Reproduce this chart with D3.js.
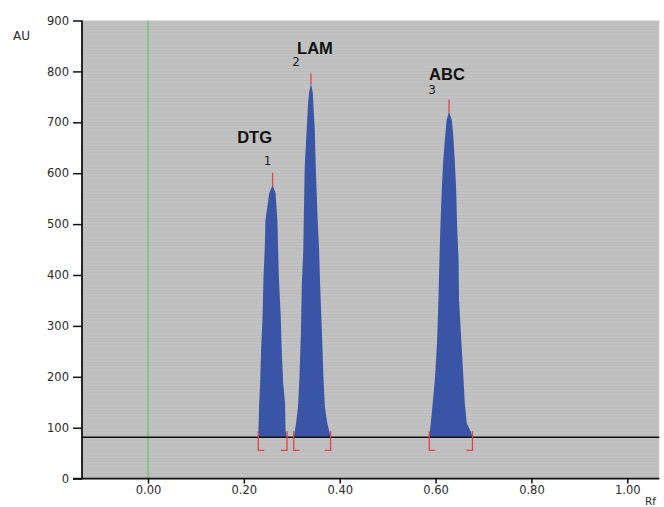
<!DOCTYPE html>
<html>
<head>
<meta charset="utf-8">
<script src="https://cdn.jsdelivr.net/npm/d3@7"></script>
<style>
  body { margin: 0; background: #fff; }
  svg { display: block; }
  .tick text { font-family: "DejaVu Sans", sans-serif; font-size: 11.5px; fill: #2a2a2a; }
</style>
</head>
<body>
<div id="chart"></div>
<script>
// densitogram data (Rf vs AU)
const peakNames = ['DTG', 'LAM', 'ABC'];
const peakNumbers = ['1', '2', '3'];
const baselineAU = 81;

const dtgRf = [0.230, 0.2305, 0.232, 0.234, 0.236, 0.239, 0.241, 0.2435, 0.245, 0.253, 0.260, 0.266, 0.270, 0.2715, 0.273, 0.277, 0.279, 0.282, 0.286, 0.287, 0.290];
const dtgAU = [81, 95, 148, 188, 253, 318, 397, 449, 508, 561, 577, 561, 508, 449, 397, 318, 253, 188, 148, 95, 81];

const lamRf = [0.304, 0.305, 0.309, 0.313, 0.316, 0.319, 0.321, 0.324, 0.325, 0.327, 0.331, 0.334, 0.336, 0.340, 0.344, 0.345, 0.348, 0.350, 0.354, 0.357, 0.359, 0.363, 0.366, 0.369, 0.374, 0.380, 0.381];
const lamAU = [81, 86, 109, 141, 200, 285, 384, 449, 508, 613, 685, 737, 757, 777, 757, 737, 685, 613, 508, 449, 384, 285, 200, 141, 109, 86, 81];

const abcRf = [0.587, 0.588, 0.590, 0.594, 0.599, 0.603, 0.606, 0.608, 0.610, 0.613, 0.616, 0.620, 0.623, 0.628, 0.634, 0.637, 0.640, 0.643, 0.645, 0.648, 0.649, 0.654, 0.658, 0.661, 0.665, 0.675, 0.677];
const abcAU = [81, 89, 109, 148, 200, 266, 351, 429, 495, 567, 626, 672, 704, 721, 704, 672, 626, 567, 495, 429, 351, 266, 200, 148, 109, 89, 81];

const peakStartRf = [0.230, 0.304, 0.587];
const peakEndRf = [0.290, 0.381, 0.677];
const peakMaxRf = [0.260, 0.340, 0.628];
const peakMaxAU = [577, 777, 721];
const peakMarkAU = [601, 796, 745];

const xTicks = [0, 0.2, 0.4, 0.6, 0.8, 1.0];
const yTicks = [0, 100, 200, 300, 400, 500, 600, 700, 800, 900];

// label placement relative to the apex mark (pixels)
const labelOffset = {
  DTG: { name: [-18, -30], num: [-5, -8] },
  LAM: { name: [4, -19], num: [-15, -7] },
  ABC: { name: [-2, -19], num: [-17, -5.5] }
};

const width = 664, height = 507;
const margin = { top: 20.5, right: 4.7, bottom: 28.4, left: 82 };

const svg = d3.select('#chart').append('svg')
  .attr('width', width)
  .attr('height', height);

const x = d3.scaleLinear()
  .domain([-0.1377, 1.0668])
  .range([margin.left, width - margin.right]);

const y = d3.scaleLinear()
  .domain([0, 900])
  .range([height - margin.bottom, margin.top]);

// gray plot background with faint scan stripes
const defs = svg.append('defs');
const pat = defs.append('pattern')
  .attr('id', 'stripes')
  .attr('width', 4).attr('height', 3)
  .attr('patternUnits', 'userSpaceOnUse');
pat.append('rect').attr('width', 4).attr('height', 3).attr('fill', '#c1c1c1');
pat.append('rect').attr('y', 2).attr('width', 4).attr('height', 1).attr('fill', '#bcbcbc');

svg.append('rect')
  .attr('x', x.range()[0])
  .attr('y', y.range()[1])
  .attr('width', x.range()[1] - x.range()[0])
  .attr('height', y.range()[0] - y.range()[1])
  .attr('fill', 'url(#stripes)');

// green line at start (Rf 0)
svg.append('line')
  .attr('x1', x(0)).attr('x2', x(0))
  .attr('y1', y(900)).attr('y2', y(0))
  .attr('stroke', '#5cc85c')
  .attr('stroke-width', 1.2);

// peaks
const peaks = [
  d3.zip(dtgRf, dtgAU),
  d3.zip(lamRf, lamAU),
  d3.zip(abcRf, abcAU)
];

const area = d3.area()
  .x(d => x(d[0]))
  .y0(y(baselineAU))
  .y1(d => y(d[1]));

svg.append('g').selectAll('path')
  .data(peaks)
  .join('path')
  .attr('d', area)
  .attr('fill', '#3a55a5');

// baseline
svg.append('line')
  .attr('x1', x.range()[0]).attr('x2', x.range()[1])
  .attr('y1', y(baselineAU)).attr('y2', y(baselineAU))
  .attr('stroke', '#111')
  .attr('stroke-width', 1.5);

// red start / end brackets
const red = '#e5424a';
const brackets = svg.append('g')
  .attr('fill', 'none')
  .attr('stroke', red)
  .attr('stroke-width', 1.3);
peakStartRf.forEach(rf => {
  const bx = x(rf), by = y(baselineAU);
  brackets.append('path').attr('d', `M${bx},${by - 6}V${by + 13}h6`);
});
peakEndRf.forEach(rf => {
  const bx = x(rf), by = y(baselineAU);
  brackets.append('path').attr('d', `M${bx},${by - 6}V${by + 13}h-6`);
});

// red apex marks
svg.append('g').selectAll('line')
  .data(peakMaxRf)
  .join('line')
  .attr('x1', d => x(d)).attr('x2', d => x(d))
  .attr('y1', (d, i) => y(peakMaxAU[i]) + 1)
  .attr('y2', (d, i) => y(peakMarkAU[i]))
  .attr('stroke', red)
  .attr('stroke-width', 1.3);

// peak labels
peakNames.forEach((name, i) => {
  const ax = x(peakMaxRf[i]), ay = y(peakMarkAU[i]);
  const off = labelOffset[name];
  svg.append('text')
    .attr('x', ax + off.name[0]).attr('y', ay + off.name[1])
    .attr('text-anchor', 'middle')
    .attr('font-family', '"Liberation Sans", Arial, sans-serif')
    .attr('font-weight', 'bold')
    .attr('font-size', 16.5)
    .attr('fill', '#111')
    .text(name);
  svg.append('text')
    .attr('x', ax + off.num[0]).attr('y', ay + off.num[1])
    .attr('text-anchor', 'middle')
    .attr('font-family', '"DejaVu Sans", sans-serif')
    .attr('font-size', 12)
    .attr('fill', '#222')
    .text(peakNumbers[i]);
});

// axes
const yAxis = svg.append('g')
  .attr('transform', `translate(${margin.left},0)`)
  .call(d3.axisLeft(y).tickValues(yTicks).tickFormat(d3.format('d')).tickSize(9).tickSizeOuter(0).tickPadding(4));
yAxis.select('.domain').remove();
yAxis.selectAll('.tick line').attr('stroke', '#111').attr('stroke-width', 1.5);

const xAxis = svg.append('g')
  .attr('transform', `translate(0,${y(0)})`)
  .call(d3.axisBottom(x).tickValues(xTicks).tickFormat(d3.format('.2f')).tickSize(5).tickSizeOuter(0).tickPadding(2.5));
xAxis.select('.domain').remove();
xAxis.selectAll('.tick line').attr('stroke', '#111').attr('stroke-width', 1.5);

svg.append('line')
  .attr('x1', margin.left).attr('x2', margin.left)
  .attr('y1', y(900)).attr('y2', y(0) + 0.75)
  .attr('stroke', '#111').attr('stroke-width', 1.8);
svg.append('line')
  .attr('x1', 73).attr('x2', x.range()[1])
  .attr('y1', y(0)).attr('y2', y(0))
  .attr('stroke', '#111').attr('stroke-width', 1.8);

// axis titles
svg.append('text')
  .attr('x', 13).attr('y', 39.5)
  .attr('font-family', '"DejaVu Sans", sans-serif')
  .attr('font-size', 12)
  .attr('fill', '#2a2a2a')
  .text('AU');
svg.append('text')
  .attr('x', 645).attr('y', 505)
  .attr('font-family', '"DejaVu Sans", sans-serif')
  .attr('font-size', 10.5)
  .attr('fill', '#2a2a2a')
  .text('Rf');
</script>
</body>
</html>
